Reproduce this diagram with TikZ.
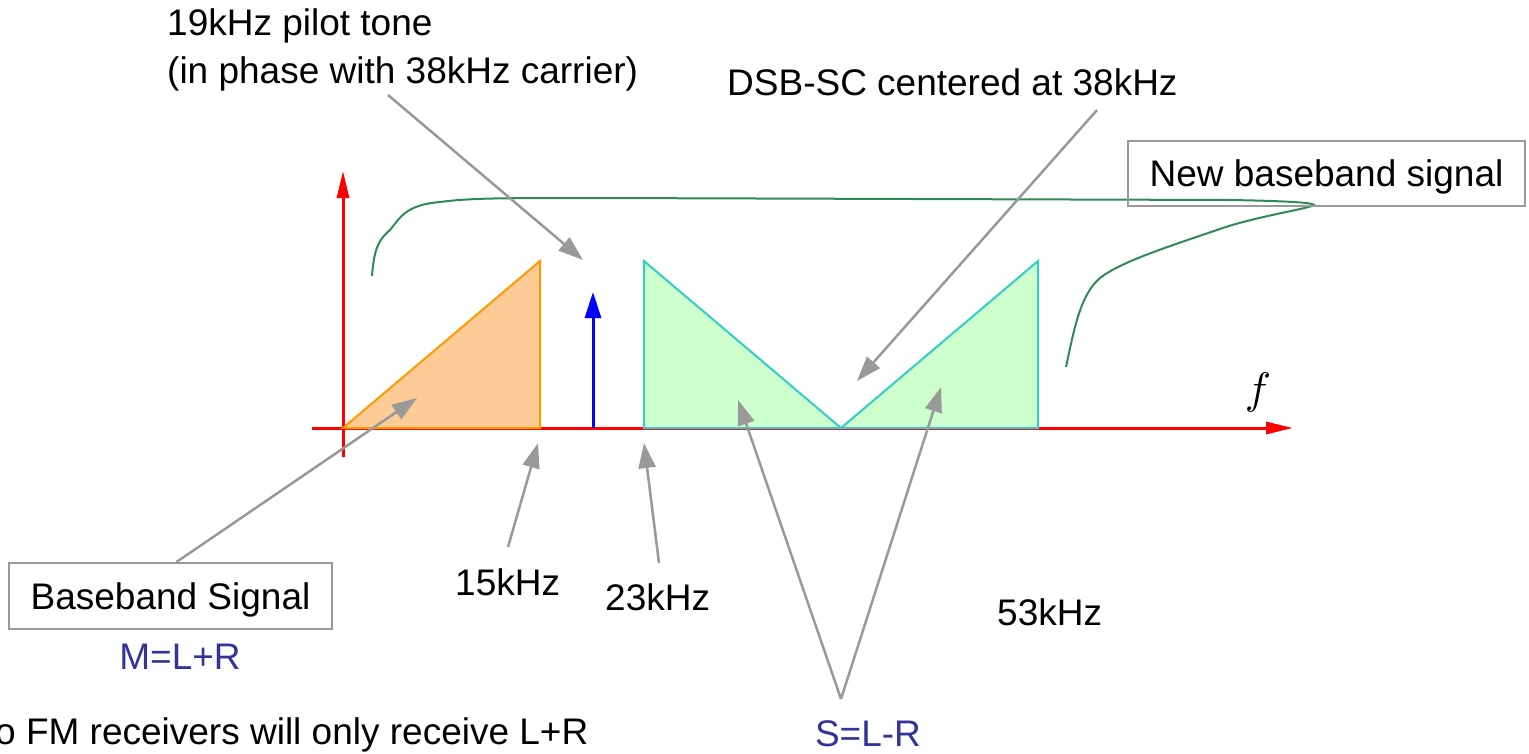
\documentclass[tikz,border=0pt]{standalone}
\usepackage{fontspec}
\setmainfont{Liberation Sans}
\usetikzlibrary{arrows.meta}
\definecolor{axisred}{HTML}{FF0000}
\definecolor{pilotblue}{HTML}{0000FF}
\definecolor{bbfill}{HTML}{FCCB96}
\definecolor{bbline}{HTML}{FF9900}
\definecolor{dsbfill}{HTML}{CCFFCC}
\definecolor{dsbline}{HTML}{33CCCC}
\definecolor{callgray}{HTML}{999999}
\definecolor{bracegreen}{HTML}{2E8B57}
\definecolor{labelblue}{HTML}{333399}
\begin{document}
\begin{tikzpicture}[x=1pt,y=-1pt,
  lbl/.style={inner sep=0pt, font=\fontsize{37}{44}\selectfont},
  boxlbl/.style={lbl, draw=callgray, line width=2pt, text depth=0pt},
  callout/.style={draw=callgray, line width=2.5pt, -{Triangle[length=25pt,width=17pt]}},
  axisline/.style={draw=axisred, line width=3pt, -{Triangle[length=27pt,width=12pt]}},
  pilotline/.style={draw=pilotblue, line width=3pt, -{Triangle[length=26pt,width=16pt]}},
  bbshape/.style={fill=bbfill, draw=bbline, line width=2pt, line join=miter},
  dsbshape/.style={fill=dsbfill, draw=dsbline, line width=2pt, line join=miter},
  brace/.style={draw=bracegreen, line width=2pt},
]
\useasboundingbox (0,0) rectangle (1529,753);

% axes
\coordinate (xstart) at (312,428);
\coordinate (xend) at (1293,428);
\coordinate (ystart) at (343,457);
\coordinate (yend) at (343,171);
\draw[axisline] (xstart) -- (xend);
\draw[axisline] (ystart) -- (yend);

% spectra
\coordinate (o0) at (343,428);
\coordinate (o1) at (540,261);
\coordinate (o2) at (540,428);
\filldraw[bbshape] (o0) -- (o1) -- (o2) -- cycle;
\coordinate (g0) at (644,428);
\coordinate (g1) at (644,261);
\coordinate (g2) at (841,428);
\coordinate (g3) at (1038,261);
\coordinate (g4) at (1038,428);
\filldraw[dsbshape] (g0) -- (g1) -- (g2) -- (g3) -- (g4) -- cycle;

% pilot tone
\coordinate (pbase) at (593,428);
\coordinate (ptop) at (593,292);
\draw[pilotline] (pbase) -- (ptop);

% brace for new baseband
\coordinate (br0) at (372,276);
\coordinate (brtip) at (1312,206);
\coordinate (br1) at (1066,367);
\draw[brace] (br0) .. controls (374,250) and (378,240) .. (390,230)
  .. controls (400,218) and (405,205) .. (440,202)
  .. controls (470,198) and (500,198) .. (600,198)
  -- (1230,200) .. controls (1290,201) and (1322,203) .. (brtip)
  .. controls (1300,210) and (1250,218) .. (1217,230)
  .. controls (1170,246) and (1120,262) .. (1100,278)
  .. controls (1080,295) and (1074,330) .. (br1);

% f label
\node[inner sep=0pt] (flbl) at (1258,392) {\scalebox{4.4}{$f$}};

% texts
\node[lbl, anchor=base west] (pilotA) at (167,35) {19kHz pilot tone};
\node[lbl, anchor=base west] (pilotB) at (167,83) {(in phase with 38kHz carrier)};
\node[lbl, anchor=base west] (dsb) at (727,95) {DSB-SC centered at 38kHz};
\node[boxlbl, minimum width=397pt, minimum height=65pt] (newbb) at (1326.5,173.5) {New baseband signal};
\node[boxlbl, minimum width=323pt, minimum height=66pt] (bb) at (170.5,596) {Baseband Signal};
\node[lbl, anchor=base, text=labelblue] (mlbl) at (180,669) {M=L+R};
\node[lbl, anchor=base, text=labelblue] (slbl) at (868,746) {S=L-R};
\node[lbl, anchor=base west] (l15) at (455,595) {15kHz};
\node[lbl, anchor=base west] (l23) at (605,610) {23kHz};
\node[lbl, anchor=base west] (l53) at (997,625) {53kHz};
\node[lbl, anchor=base west] (mono) at (-5,744) {o FM receivers will only receive L+R};

% callout arrows
\coordinate (pilottail) at (388,95);
\coordinate (pilothead) at (583,260);
\draw[callout] (pilottail) -- (pilothead);
\coordinate (dsbtail) at (1097,110);
\coordinate (dsbhead) at (857,381);
\draw[callout] (dsbtail) -- (dsbhead);
\coordinate (bbhead) at (417,398);
\draw[callout] ([xshift=6pt]bb.north) -- (bbhead);
\coordinate (t15) at (508,547);
\coordinate (h15) at (538,443);
\draw[callout] (t15) -- (h15);
\coordinate (t23) at (659,563);
\coordinate (h23) at (644,443);
\draw[callout] (t23) -- (h23);
\coordinate (stail) at (841,699);
\coordinate (shl) at (738,400);
\coordinate (shr) at (941,387);
\draw[callout] (stail) -- (shl);
\draw[callout] (stail) -- (shr);
\end{tikzpicture}
\end{document}
